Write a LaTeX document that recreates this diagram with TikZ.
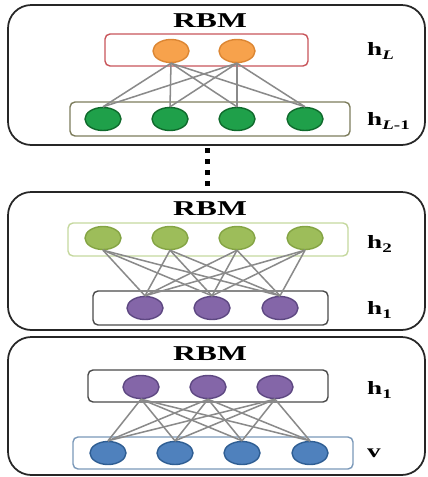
\documentclass[tikz,border=0pt]{standalone}
\usepackage{fontspec}
\setmainfont{Liberation Serif}
\usetikzlibrary{shapes.geometric}

\definecolor{orangefill}{HTML}{F7A24C}
\definecolor{orangeline}{HTML}{DC8633}
\definecolor{redbox}{HTML}{C8555A}
\definecolor{greenfill}{HTML}{1FA04A}
\definecolor{greenline}{HTML}{0F6A2C}
\definecolor{olivebox}{HTML}{7C7C5C}
\definecolor{lgreenfill}{HTML}{9DBD5A}
\definecolor{lgreenline}{HTML}{84A444}
\definecolor{lgreenbox}{HTML}{C5D89E}
\definecolor{purplefill}{HTML}{8466A8}
\definecolor{purpleline}{HTML}{5E4882}
\definecolor{purplebox}{HTML}{4A4A4A}
\definecolor{bluefill}{HTML}{4F81BD}
\definecolor{blueline}{HTML}{2F5E93}
\definecolor{bluebox}{HTML}{7A98B8}
\definecolor{linkgray}{HTML}{8A8A8A}

\begin{document}
\begin{tikzpicture}[x=0.03cm, y=-0.03cm]
    % styles of the units, boxes and links
    \tikzstyle{unit} = [ellipse, draw, line width=1.2pt, minimum width=1.08cm, minimum height=0.69cm, inner sep=0pt]
    \tikzstyle{layerbox} = [rounded corners=0.15cm, line width=1.2pt]
    \tikzstyle{rbmbox} = [rounded corners=0.7cm, line width=1.5pt, draw=black!85]
    \tikzstyle{link} = [draw=linkgray, line width=1.3pt]
    \tikzstyle{title} = [font=\fontsize{18}{20}\selectfont\bfseries]
    \tikzstyle{lbl} = [anchor=west, inner sep=0pt, font=\fontsize{16}{18}\selectfont\bfseries]

    \useasboundingbox (0,0) rectangle (428,477);

    % top RBM: h_L over h_{L-1}
    \draw[rbmbox] (8,5) rectangle (425,145);
    \node (T1) [title] at (210,21) {\scalebox{1.5}[1]{RBM}};
    \draw[layerbox, draw=redbox] (105,34) rectangle (308,66);
    \draw[layerbox, draw=olivebox] (70,102) rectangle (350,136);
    \foreach \x [count=\i] in {171, 237} {
        \node (O\i) [unit, fill=orangefill, draw=orangeline] at (\x, 51) {};
    }
    \foreach \x [count=\i] in {103, 170, 237, 305} {
        \node (G\i) [unit, fill=greenfill, draw=greenline] at (\x, 119) {};
    }
    \foreach \i in {1, 2} {
        \foreach \j in {1, ..., 4} {
            \draw[link] (O\i.south) -- (G\j.north);
        }
    }
    \node (LhL) [lbl] at (367, 51) {\scalebox{1.45}[1]{h\textsubscript{\textit{L}}}};
    \node (LhLm) [lbl] at (367, 121) {\scalebox{1.45}[1]{h\textsubscript{\textit{L}-1}}};

    % dots between the blocks
    \foreach \y in {150, 161, 172, 183} {
        \fill (204.5, \y-2.5) rectangle (209.5, \y+2.5);
    }

    % middle RBM: h_2 over h_1
    \draw[rbmbox] (8,192) rectangle (425,330);
    \node (T2) [title] at (210,209) {\scalebox{1.5}[1]{RBM}};
    \draw[layerbox, draw=lgreenbox] (68,223) rectangle (348,256);
    \draw[layerbox, draw=purplebox] (93,291) rectangle (328,325);
    \foreach \x [count=\i] in {103, 170, 237, 305} {
        \node (L\i) [unit, fill=lgreenfill, draw=lgreenline] at (\x, 238) {};
    }
    \foreach \x [count=\i] in {145, 212, 280} {
        \node (P\i) [unit, fill=purplefill, draw=purpleline] at (\x, 308) {};
    }
    \foreach \i in {1, ..., 4} {
        \foreach \j in {1, 2, 3} {
            \draw[link] (L\i.south) -- (P\j.north);
        }
    }
    \node (Lh2) [lbl] at (367, 244) {\scalebox{1.45}[1]{h\textsubscript{2}}};
    \node (Lh1a) [lbl] at (367, 310) {\scalebox{1.45}[1]{h\textsubscript{1}}};

    % bottom RBM: h_1 over v
    \draw[rbmbox] (8,337) rectangle (425,475);
    \node (T3) [title] at (210,354) {\scalebox{1.5}[1]{RBM}};
    \draw[layerbox, draw=purplebox] (88,370) rectangle (328,402);
    \draw[layerbox, draw=bluebox] (73,437) rectangle (353,469);
    \foreach \x [count=\i] in {141, 208, 275} {
        \node (Q\i) [unit, fill=purplefill, draw=purpleline] at (\x, 387) {};
    }
    \foreach \x [count=\i] in {108, 175, 242, 310} {
        \node (B\i) [unit, fill=bluefill, draw=blueline] at (\x, 453) {};
    }
    \foreach \i in {1, 2, 3} {
        \foreach \j in {1, ..., 4} {
            \draw[link] (Q\i.south) -- (B\j.north);
        }
    }
    \node (Lh1b) [lbl] at (367, 390) {\scalebox{1.45}[1]{h\textsubscript{1}}};
    \node (Lv) [lbl] at (367, 453) {\scalebox{1.45}[1]{v}};
\end{tikzpicture}
\end{document}
